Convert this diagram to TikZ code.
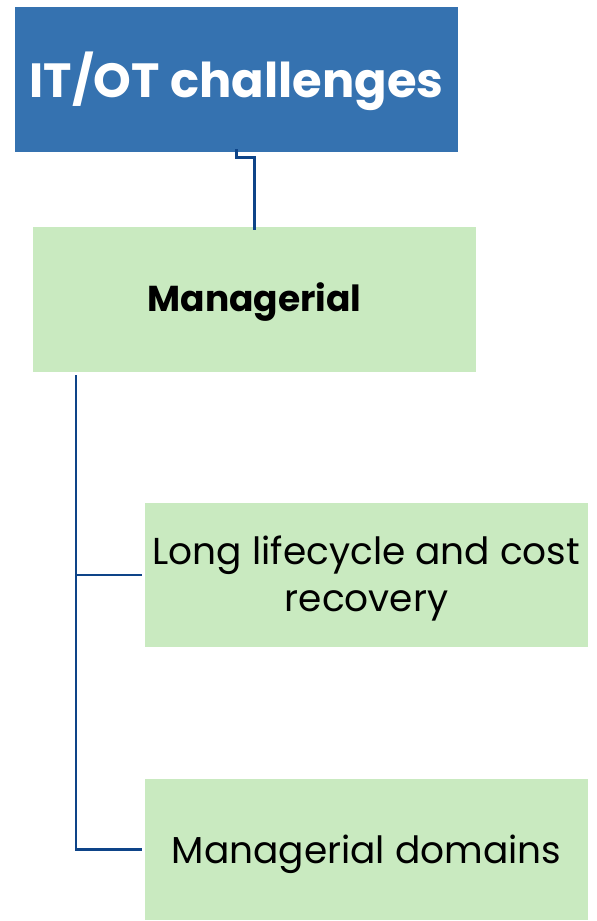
\documentclass[tikz,border=0pt]{standalone}
\usepackage{fontspec}
\setmainfont{Poppins}
\begin{document}
\begin{tikzpicture}[x=1pt,y=-1pt,
  box/.style={draw=none,inner sep=0pt},
  rootbox/.style={box,fill=rootblue},
  greenbox/.style={box,fill=leafgreen},
  roottext/.style={inner sep=0pt,text=white,font=\fontsize{48}{56}\selectfont\bfseries},
  cattext/.style={inner sep=0pt,text=black,font=\fontsize{36}{42}\selectfont\bfseries},
  leaftext/.style={inner sep=0pt,text=black,align=center,font=\fontsize{37.5}{47}\selectfont},
  link/.style={draw=linknavy,line width=2.7pt}]
\definecolor{rootblue}{HTML}{3572B0}
\definecolor{leafgreen}{HTML}{C9EAC0}
\definecolor{linknavy}{HTML}{0E4488}
\useasboundingbox (0,0) rectangle (597,921);
% boxes
\node[rootbox,minimum width=443pt,minimum height=145pt] (root) at (236.5,79.5) {};
\node[greenbox,minimum width=443pt,minimum height=145pt] (cat) at (254.5,299.5) {};
\node[greenbox,minimum width=443pt,minimum height=144pt] (leafA) at (366.5,575) {};
\node[greenbox,minimum width=443pt,minimum height=141pt] (leafB) at (366.5,849.5) {};
% labels
\node[roottext] (rootlabel) at ([yshift=-2pt]root.center) {IT/OT challenges};
\node[cattext] (catlabel) at ([yshift=-3pt]cat.center) {Managerial};
\node[leaftext] (leafAlabel) at ([yshift=-4pt]leafA.center) {Long lifecycle and cost\\recovery};
\node[leaftext] (leafBlabel) at ([yshift=-5pt]leafB.center) {Managerial domains};
% connectors
\coordinate (catfoot) at (76,375);
\draw[link] ([yshift=3pt]root.south) -- ++(0,8) -| ([yshift=-3pt]cat.north);
\draw[link] (catfoot) -- (catfoot |- leafB.west) -- ([xshift=-3pt]leafB.west);
\draw[link] (catfoot |- leafA.west) -- ([xshift=-3pt]leafA.west);
\end{tikzpicture}
\end{document}
